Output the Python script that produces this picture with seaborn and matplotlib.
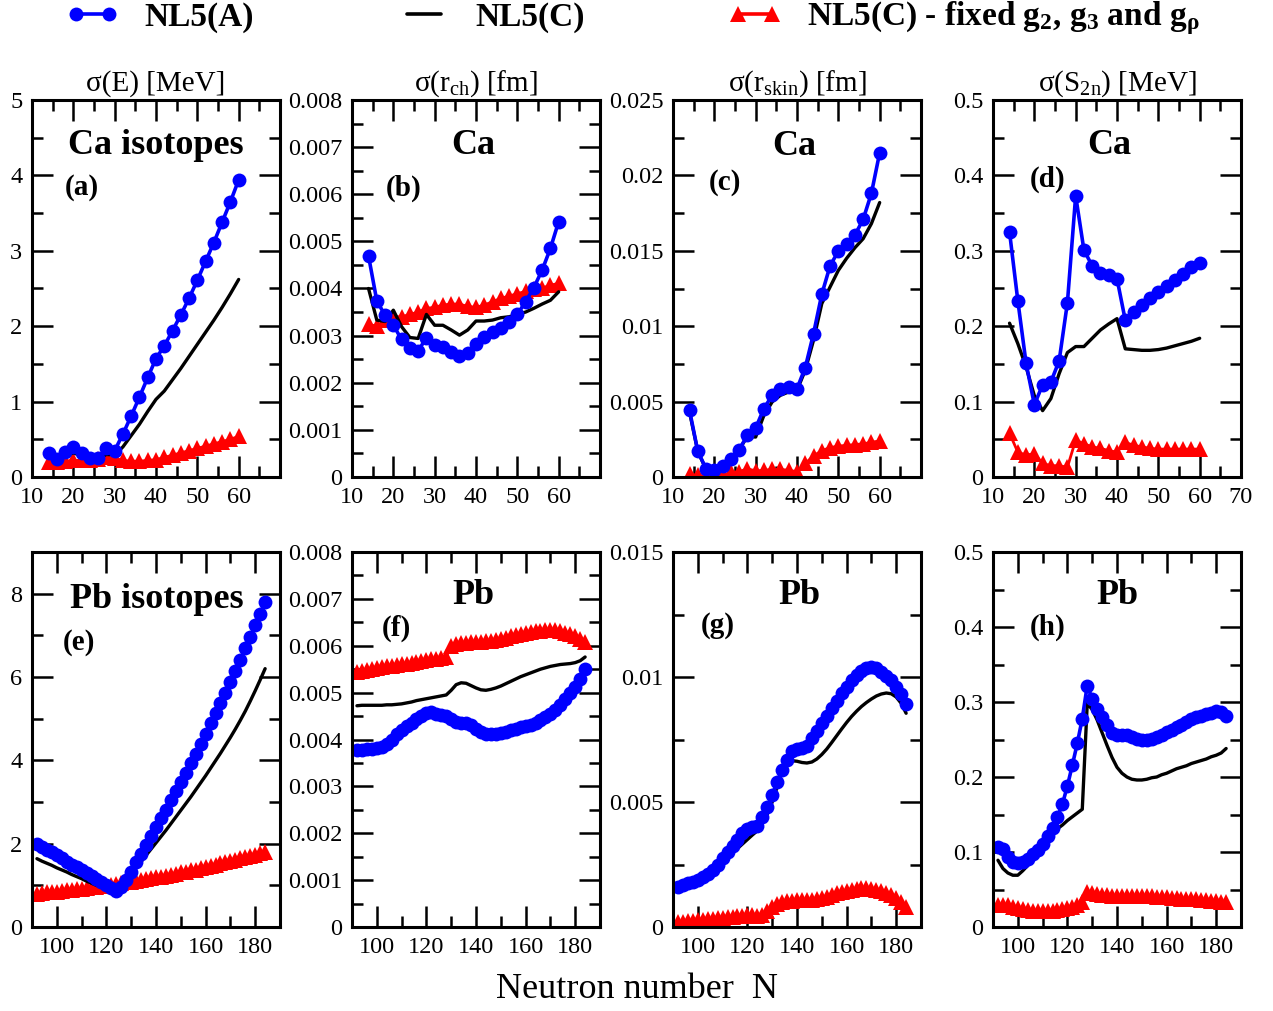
import numpy as np
import matplotlib
matplotlib.use("Agg")
import matplotlib.pyplot as plt
import seaborn as sns
from matplotlib.lines import Line2D
from matplotlib.ticker import MultipleLocator, FuncFormatter

sns.set_style("ticks")
plt.rcParams["font.family"] = ["Liberation Serif", "DejaVu Serif"]
plt.rcParams["mathtext.default"] = "regular"
for k in ["text.color", "axes.labelcolor", "xtick.color", "ytick.color", "axes.edgecolor"]:
    plt.rcParams[k] = "black"

# neutron numbers
N_CA = list(range(14, 62, 2))
N_PB = list(range(92, 186, 2))

# ---- Ca isotopes ----
CA_E_A = [0.32, 0.24, 0.33, 0.40, 0.32, 0.25, 0.25, 0.39, 0.35, 0.57, 0.81, 1.06,
          1.32, 1.57, 1.74, 1.94, 2.15, 2.37, 2.61, 2.86, 3.11, 3.38, 3.65, 3.94]
CA_E_C = [0.27, 0.24, 0.28, 0.32, 0.28, 0.24, 0.24, 0.30, 0.29, 0.40, 0.55, 0.70,
          0.87, 1.03, 1.14, 1.29, 1.44, 1.60, 1.76, 1.92, 2.08, 2.25, 2.43, 2.62]
CA_E_F = [0.20, 0.20, 0.21, 0.22, 0.22, 0.23, 0.24, 0.26, 0.25, 0.22, 0.21, 0.21,
          0.22, 0.23, 0.26, 0.29, 0.32, 0.35, 0.38, 0.41, 0.44, 0.47, 0.50, 0.54]

CA_RCH_A = [0.00469, 0.00374, 0.00343, 0.00322, 0.00292, 0.00273, 0.00267, 0.00296,
            0.00281, 0.00276, 0.00265, 0.00257, 0.00263, 0.00283, 0.00297, 0.00307,
            0.00317, 0.00329, 0.00345, 0.00372, 0.00402, 0.00439, 0.00485, 0.00542]
CA_RCH_C = [0.00400, 0.00333, 0.00330, 0.00354, 0.00319, 0.00296, 0.00294, 0.00345,
            0.00322, 0.00322, 0.00312, 0.00301, 0.00312, 0.00331, 0.00331, 0.00333,
            0.00338, 0.00340, 0.00345, 0.00350, 0.00358, 0.00367, 0.00375, 0.00393]
CA_RCH_F = [0.00324, 0.00320, 0.00333, 0.00340, 0.00340, 0.00345, 0.00350, 0.00358,
            0.00360, 0.00365, 0.00367, 0.00367, 0.00362, 0.00360, 0.00365, 0.00372,
            0.00379, 0.00384, 0.00389, 0.00394, 0.00399, 0.00401, 0.00407, 0.00411]

CA_SKIN_A = [0.00442, 0.00170, 0.00055, 0.00049, 0.00071, 0.00122, 0.00181, 0.00277,
             0.00325, 0.00454, 0.00542, 0.00586, 0.00597, 0.00586, 0.00726, 0.00951,
             0.01212, 0.01400, 0.01498, 0.01544, 0.01604, 0.01708, 0.01881, 0.02150]
CA_SKIN_C = [0.00430, 0.00170, 0.00050, 0.00050, 0.00070, 0.00120, 0.00180, 0.00270,
             0.00265, 0.00409, 0.00498, 0.00542, 0.00564, 0.00575, 0.00708, 0.00907,
             0.01150, 0.01260, 0.01370, 0.01450, 0.01520, 0.01580, 0.01680, 0.01820]
CA_SKIN_F = [0.00020, 0.00010, 0.00005, 0.00005, 0.00010, 0.00030, 0.00035, 0.00055,
             0.00040, 0.00045, 0.00050, 0.00050, 0.00045, 0.00035, 0.00090, 0.00140,
             0.00175, 0.00195, 0.00205, 0.00210, 0.00215, 0.00220, 0.00230, 0.00240]

CA_S2N_A = [0.325, 0.234, 0.151, 0.096, 0.122, 0.126, 0.154, 0.231, 0.373, 0.301, 0.280, 0.271,
            0.268, 0.263, 0.208, 0.219, 0.228, 0.237, 0.246, 0.253, 0.261, 0.269, 0.278, 0.284]
CA_S2N_C = [0.204, 0.177, 0.146, 0.108, 0.088, 0.104, 0.137, 0.165, 0.173, 0.173, 0.184, 0.195,
            0.203, 0.210, 0.170, 0.169, 0.168, 0.168, 0.169, 0.171, 0.174, 0.177, 0.180, 0.184]
CA_S2N_F = [0.058, 0.033, 0.029, 0.031, 0.018, 0.015, 0.015, 0.013, 0.049, 0.044, 0.040, 0.038,
            0.035, 0.033, 0.046, 0.042, 0.040, 0.038, 0.037, 0.037, 0.037, 0.037, 0.037, 0.037]

# ---- Pb isotopes ----
PB_E_A = [2.00, 1.93, 1.86, 1.79, 1.72, 1.65, 1.57, 1.50, 1.43, 1.36,
          1.29, 1.22, 1.15, 1.08, 1.01, 0.93, 0.87, 0.95, 1.12, 1.32,
          1.55, 1.76, 1.96, 2.18, 2.40, 2.61, 2.82, 3.04, 3.26, 3.48,
          3.70, 3.93, 4.16, 4.40, 4.64, 4.89, 5.14, 5.38, 5.62, 5.88,
          6.14, 6.42, 6.70, 6.97, 7.24, 7.52, 7.80]
PB_E_C = [1.64, 1.58, 1.53, 1.48, 1.42, 1.37, 1.32, 1.26, 1.21, 1.16,
          1.10, 1.05, 1.00, 0.95, 0.91, 0.88, 0.90, 0.98, 1.12, 1.27,
          1.42, 1.57, 1.72, 1.87, 2.02, 2.17, 2.32, 2.48, 2.64, 2.80,
          2.96, 3.12, 3.29, 3.46, 3.63, 3.81, 3.99, 4.17, 4.36, 4.55,
          4.75, 4.96, 5.18, 5.42, 5.67, 5.93, 6.20]
PB_E_F = [0.80, 0.81, 0.83, 0.84, 0.85, 0.87, 0.88, 0.90, 0.91, 0.92,
          0.94, 0.95, 0.97, 0.98, 1.00, 1.01, 1.03, 1.05, 1.07, 1.09,
          1.11, 1.13, 1.15, 1.17, 1.19, 1.21, 1.23, 1.26, 1.28, 1.31,
          1.33, 1.36, 1.38, 1.41, 1.44, 1.47, 1.50, 1.53, 1.56, 1.59,
          1.62, 1.65, 1.68, 1.71, 1.74, 1.77, 1.80]

PB_RCH_A = [0.00378, 0.00378, 0.00379, 0.00380, 0.00381, 0.00384, 0.00390, 0.00400, 0.00411, 0.00420,
            0.00428, 0.00436, 0.00444, 0.00451, 0.00457, 0.00459, 0.00455, 0.00452, 0.00450, 0.00444,
            0.00438, 0.00436, 0.00435, 0.00431, 0.00422, 0.00415, 0.00412, 0.00411, 0.00412, 0.00414,
            0.00417, 0.00420, 0.00423, 0.00426, 0.00429, 0.00432, 0.00436, 0.00441, 0.00447, 0.00454,
            0.00463, 0.00474, 0.00486, 0.00499, 0.00512, 0.00530, 0.00551]
PB_RCH_C = [0.00472, 0.00473, 0.00473, 0.00473, 0.00473, 0.00473, 0.00474, 0.00474, 0.00475, 0.00476,
            0.00478, 0.00480, 0.00483, 0.00485, 0.00487, 0.00489, 0.00491, 0.00493, 0.00495, 0.00505,
            0.00517, 0.00521, 0.00520, 0.00515, 0.00510, 0.00506, 0.00505, 0.00507, 0.00510, 0.00514,
            0.00519, 0.00524, 0.00529, 0.00534, 0.00538, 0.00542, 0.00546, 0.00550, 0.00553, 0.00556,
            0.00558, 0.00560, 0.00561, 0.00562, 0.00564, 0.00568, 0.00576]
PB_RCH_F = [0.00545, 0.00547, 0.00549, 0.00550, 0.00552, 0.00554, 0.00556, 0.00557, 0.00559, 0.00561,
            0.00562, 0.00564, 0.00566, 0.00567, 0.00569, 0.00571, 0.00572, 0.00574, 0.00576, 0.00600,
            0.00603, 0.00605, 0.00606, 0.00607, 0.00608, 0.00609, 0.00610, 0.00611, 0.00613, 0.00615,
            0.00617, 0.00620, 0.00622, 0.00625, 0.00627, 0.00629, 0.00631, 0.00632, 0.00633, 0.00633,
            0.00633, 0.00631, 0.00628, 0.00625, 0.00621, 0.00615, 0.00608]

PB_SKIN_A = [0.00160, 0.00168, 0.00175, 0.00182, 0.00190, 0.00200, 0.00212, 0.00228, 0.00250, 0.00275,
             0.00300, 0.00325, 0.00350, 0.00375, 0.00392, 0.00400, 0.00405, 0.00440, 0.00480, 0.00530,
             0.00580, 0.00630, 0.00670, 0.00705, 0.00713, 0.00715, 0.00725, 0.00755, 0.00785, 0.00815,
             0.00845, 0.00875, 0.00905, 0.00935, 0.00962, 0.00988, 0.01008, 0.01025, 0.01035, 0.01040,
             0.01035, 0.01022, 0.01005, 0.00987, 0.00962, 0.00933, 0.00891]
PB_SKIN_C = [0.00158, 0.00165, 0.00172, 0.00180, 0.00188, 0.00198, 0.00210, 0.00225, 0.00242, 0.00260,
             0.00278, 0.00296, 0.00314, 0.00332, 0.00350, 0.00368, 0.00385, 0.00415, 0.00450, 0.00500,
             0.00560, 0.00620, 0.00655, 0.00665, 0.00663, 0.00658, 0.00656, 0.00660, 0.00672, 0.00690,
             0.00712, 0.00738, 0.00765, 0.00792, 0.00818, 0.00842, 0.00863, 0.00882, 0.00898, 0.00912,
             0.00924, 0.00932, 0.00936, 0.00933, 0.00920, 0.00895, 0.00855]
PB_SKIN_F = [0.00020, 0.00022, 0.00024, 0.00026, 0.00028, 0.00030, 0.00032, 0.00034, 0.00036, 0.00038,
             0.00040, 0.00042, 0.00044, 0.00046, 0.00047, 0.00048, 0.00045, 0.00050, 0.00065, 0.00080,
             0.00092, 0.00100, 0.00104, 0.00106, 0.00107, 0.00108, 0.00108, 0.00109, 0.00112, 0.00116,
             0.00122, 0.00128, 0.00135, 0.00141, 0.00146, 0.00150, 0.00153, 0.00155, 0.00155, 0.00153,
             0.00150, 0.00145, 0.00138, 0.00128, 0.00115, 0.00100, 0.00082]

PB_S2N_A = [0.107, 0.104, 0.093, 0.087, 0.085, 0.087, 0.091, 0.098, 0.103, 0.111,
            0.122, 0.132, 0.147, 0.164, 0.188, 0.216, 0.245, 0.278, 0.322, 0.304,
            0.291, 0.280, 0.269, 0.259, 0.256, 0.256, 0.256, 0.253, 0.251, 0.250,
            0.249, 0.251, 0.253, 0.256, 0.260, 0.263, 0.267, 0.270, 0.273, 0.277,
            0.280, 0.282, 0.284, 0.286, 0.288, 0.287, 0.282]
PB_S2N_C = [0.089, 0.078, 0.072, 0.069, 0.069, 0.075, 0.082, 0.091, 0.100, 0.109,
            0.116, 0.124, 0.131, 0.136, 0.142, 0.147, 0.152, 0.157, 0.298, 0.290,
            0.276, 0.259, 0.242, 0.226, 0.213, 0.205, 0.200, 0.197, 0.196, 0.196,
            0.197, 0.199, 0.200, 0.203, 0.205, 0.208, 0.211, 0.213, 0.215, 0.218,
            0.220, 0.222, 0.224, 0.227, 0.229, 0.232, 0.238]
PB_S2N_F = [0.030, 0.030, 0.029, 0.027, 0.025, 0.024, 0.023, 0.022, 0.022, 0.022,
            0.022, 0.022, 0.023, 0.024, 0.025, 0.027, 0.030, 0.034, 0.047, 0.045,
            0.044, 0.043, 0.043, 0.042, 0.042, 0.042, 0.042, 0.042, 0.042, 0.041,
            0.041, 0.041, 0.040, 0.040, 0.040, 0.039, 0.039, 0.038, 0.038, 0.037,
            0.037, 0.036, 0.036, 0.035, 0.035, 0.034, 0.033]

TITLES = ["σ(E) [MeV]", "σ(r$_{ch}$) [fm]", "σ(r$_{skin}$) [fm]", "σ(S$_{2n}$) [MeV]"]
LEGEND_LABELS = ["NL5(A)", "NL5(C)", "NL5(C) - fixed g$_2$, g$_3$ and g$_ρ$"]

BLUE = "#0000ff"
RED = "#ff0000"
MS_BLUE = 10
MS_RED = 11


def draw_series(ax, n, a, c, f):
    sns.lineplot(x=n, y=f, ax=ax, color=RED, linewidth=2.0, marker="^",
                 markersize=MS_RED, markeredgewidth=0)
    sns.lineplot(x=n, y=c, ax=ax, color="black", linewidth=2.4)
    sns.lineplot(x=n, y=a, ax=ax, color=BLUE, linewidth=2.6, marker="o",
                 markersize=MS_BLUE, markeredgewidth=0)


def style_axis(ax, xlim, xstep, xlab_lo, xlab_hi, ylim, ymaj):
    ax.set_xlim(*xlim)
    ax.set_ylim(*ylim)
    ax.xaxis.set_major_locator(MultipleLocator(xstep))
    ax.xaxis.set_minor_locator(MultipleLocator(xstep / 2))

    def xfmt(v, pos):
        v = int(round(v))
        return str(v) if xlab_lo <= v <= xlab_hi else ""

    ax.xaxis.set_major_formatter(FuncFormatter(xfmt))
    ax.yaxis.set_major_locator(MultipleLocator(ymaj))
    ax.yaxis.set_minor_locator(MultipleLocator(ymaj / 2))
    ax.yaxis.set_major_formatter(FuncFormatter(lambda v, p: f"{round(v, 6):g}"))
    ax.tick_params(which="both", direction="in", top=True, right=True,
                   width=1.8, labelsize=17.5, pad=7)
    ax.tick_params(which="major", length=15)
    ax.tick_params(which="minor", length=8)
    for sp in ax.spines.values():
        sp.set_linewidth(2.2)
        sp.set_color("black")
    ax.set_xlabel("")
    ax.set_ylabel("")


fig = plt.figure(figsize=(12.73, 10.11), dpi=100)
W, H = 1273, 1011
lefts = [32, 352, 673, 993]
pw = 248
axes = []
for row, (top, bot) in enumerate([(100, 477), (552, 927)]):
    for col in range(4):
        ax = fig.add_axes([lefts[col] / W, 1 - bot / H, pw / W, (bot - top) / H])
        axes.append(ax)

ca_data = [(CA_E_A, CA_E_C, CA_E_F, (0, 5), 1),
           (CA_RCH_A, CA_RCH_C, CA_RCH_F, (0, 0.008), 0.001),
           (CA_SKIN_A, CA_SKIN_C, CA_SKIN_F, (0, 0.025), 0.005),
           (CA_S2N_A, CA_S2N_C, CA_S2N_F, (0, 0.5), 0.1)]
pb_data = [(PB_E_A, PB_E_C, PB_E_F, (0, 9), 2),
           (PB_RCH_A, PB_RCH_C, PB_RCH_F, (0, 0.008), 0.001),
           (PB_SKIN_A, PB_SKIN_C, PB_SKIN_F, (0, 0.015), 0.005),
           (PB_S2N_A, PB_S2N_C, PB_S2N_F, (0, 0.5), 0.1)]

ca_text = ["Ca isotopes", "Ca", "Ca", "Ca"]
pb_text = ["Pb isotopes", "Pb", "Pb", "Pb"]
tags = ["(a)", "(b)", "(c)", "(d)", "(e)", "(f)", "(g)", "(h)"]
ca_pos = [(0.50, 0.88, 0.20, 0.767), (0.49, 0.88, 0.21, 0.767),
          (0.49, 0.876, 0.21, 0.78), (0.47, 0.88, 0.22, 0.79)]
pb_pos = [(0.505, 0.872, 0.19, 0.76), (0.49, 0.885, 0.18, 0.797),
          (0.51, 0.885, 0.18, 0.805), (0.50, 0.885, 0.22, 0.80)]

for i, (a, c, f, ylim, ymaj) in enumerate(ca_data):
    ax = axes[i]
    draw_series(ax, N_CA, a, c, f)
    style_axis(ax, (10, 70), 10, 10, 70 if i == 3 else 60, ylim, ymaj)
    ax.set_title(TITLES[i], fontsize=21, pad=7)
    tx, ty, lx, ly = ca_pos[i]
    ax.text(tx, ty, ca_text[i], transform=ax.transAxes, ha="center", va="center",
            fontsize=26, fontweight="bold")
    ax.text(lx, ly, tags[i], transform=ax.transAxes, ha="center", va="center",
            fontsize=21, fontweight="bold")

for i, (a, c, f, ylim, ymaj) in enumerate(pb_data):
    ax = axes[4 + i]
    draw_series(ax, N_PB, a, c, f)
    style_axis(ax, (90, 190), 20, 100, 180, ylim, ymaj)
    tx, ty, lx, ly = pb_pos[i]
    ax.text(tx, ty, pb_text[i], transform=ax.transAxes, ha="center", va="center",
            fontsize=26, fontweight="bold")
    ax.text(lx, ly, tags[4 + i], transform=ax.transAxes, ha="center", va="center",
            fontsize=21, fontweight="bold")

handles = [Line2D([], [], color=BLUE, lw=2.6, marker="o", markersize=MS_BLUE, markeredgewidth=0),
           Line2D([], [], color="black", lw=2.6),
           Line2D([], [], color=RED, lw=2.6, marker="^", markersize=MS_RED, markeredgewidth=0)]
fig.legend(handles, LEGEND_LABELS, loc="center", bbox_to_anchor=(0.497, 0.982),
           ncol=3, frameon=False, numpoints=2, handlelength=1.6, handletextpad=0.75,
           columnspacing=4.3, borderaxespad=0, prop={"weight": "bold", "size": 24})

fig.text(0.5, 0.021, "Neutron number  N", ha="center", va="center", fontsize=26)

fig.savefig("out.png", dpi=100)
